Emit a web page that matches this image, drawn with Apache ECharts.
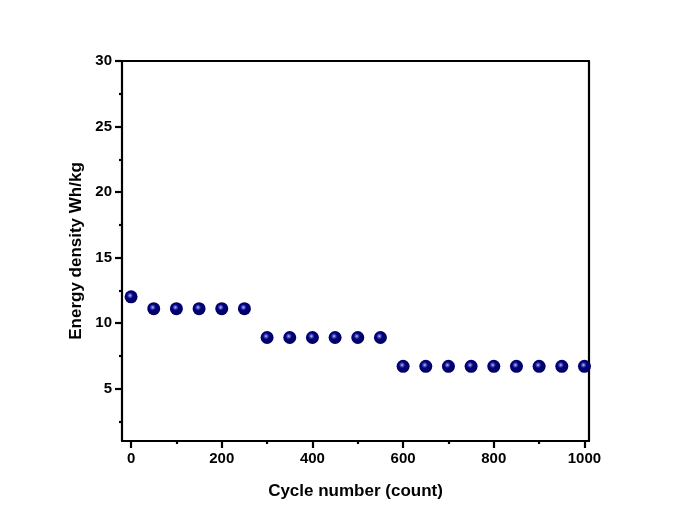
<!DOCTYPE html>
<html>
<head>
<meta charset="utf-8">
<script src="https://cdn.jsdelivr.net/npm/echarts@6/dist/echarts.min.js"></script>
<style>html,body{margin:0;padding:0;background:#fff;}#c{width:685px;height:529px;}</style>
</head>
<body>
<div id="c"></div>
<script>
const cycles = [0, 50, 100, 150, 200, 250, 300, 350, 400, 450, 500, 550, 600, 650, 700, 750, 800, 850, 900, 950, 1000];
const energy = [12.0, 11.1, 11.1, 11.1, 11.1, 11.1, 8.9, 8.9, 8.9, 8.9, 8.9, 8.9, 6.7, 6.7, 6.7, 6.7, 6.7, 6.7, 6.7, 6.7, 6.7];
const xMajor = [0, 200, 400, 600, 800, 1000];
const xMinor = [100, 300, 500, 700, 900];
const yMajor = [5, 10, 15, 20, 25, 30];
const yMinor = [2.5, 7.5, 12.5, 17.5, 22.5, 27.5];

const font = 'Liberation Sans, Arial, sans-serif';
const lineStyle = {color: '#000', width: 2.2};
const chart = echarts.init(document.getElementById('c'));
const baseX = {type: 'value', min: -20, max: 1010, splitLine: {show: false}};
const baseY = {type: 'value', min: 1, max: 30, splitLine: {show: false}};
chart.setOption({
  animation: false,
  grid: {left: 122, top: 61, right: 96, bottom: 88},
  xAxis: [
    Object.assign({}, baseX, {
      position: 'bottom',
      name: 'Cycle number (count)', nameLocation: 'middle', nameGap: 42,
      nameTextStyle: {fontFamily: font, fontWeight: 'bold', fontSize: 17, color: '#000'},
      axisLine: {show: true, onZero: false, lineStyle: lineStyle},
      axisTick: {show: true, inside: false, length: 7, lineStyle: lineStyle, customValues: xMajor},
      axisLabel: {show: true, customValues: xMajor, formatter: v => String(v), fontFamily: font, fontWeight: 'bold', fontSize: 15, color: '#000', margin: 10}
    }),
    Object.assign({}, baseX, {
      position: 'bottom',
      axisLine: {show: false, onZero: false},
      axisTick: {show: true, inside: false, length: 3, lineStyle: lineStyle, customValues: xMinor},
      axisLabel: {show: false}
    }),
    Object.assign({}, baseX, {
      position: 'top',
      axisLine: {show: true, onZero: false, lineStyle: lineStyle},
      axisTick: {show: false}, axisLabel: {show: false}
    })
  ],
  yAxis: [
    Object.assign({}, baseY, {
      position: 'left',
      name: 'Energy density Wh/kg', nameLocation: 'middle', nameGap: 35,
      nameTextStyle: {fontFamily: font, fontWeight: 'bold', fontSize: 17, color: '#000'},
      axisLine: {show: true, onZero: false, lineStyle: lineStyle},
      axisTick: {show: true, inside: false, length: 7, lineStyle: lineStyle, customValues: yMajor},
      axisLabel: {show: true, customValues: yMajor, fontFamily: font, fontWeight: 'bold', fontSize: 15, color: '#000', margin: 10}
    }),
    Object.assign({}, baseY, {
      position: 'left',
      axisLine: {show: false, onZero: false},
      axisTick: {show: true, inside: false, length: 3, lineStyle: lineStyle, customValues: yMinor},
      axisLabel: {show: false}
    }),
    Object.assign({}, baseY, {
      position: 'right',
      axisLine: {show: true, onZero: false, lineStyle: lineStyle},
      axisTick: {show: false}, axisLabel: {show: false}
    })
  ],
  series: [{
    type: 'scatter',
    xAxisIndex: 0, yAxisIndex: 0,
    symbol: 'circle',
    symbolSize: 13,
    data: cycles.map((c, i) => [c, energy[i]]),
    itemStyle: {
      opacity: 1,
      color: {
        type: 'radial', x: 0.42, y: 0.4, r: 0.6,
        colorStops: [
          {offset: 0, color: '#c4c6ee'},
          {offset: 0.18, color: '#5558b8'},
          {offset: 0.4, color: '#000080'},
          {offset: 1, color: '#00005a'}
        ]
      }
    }
  }]
});
</script>
</body>
</html>
